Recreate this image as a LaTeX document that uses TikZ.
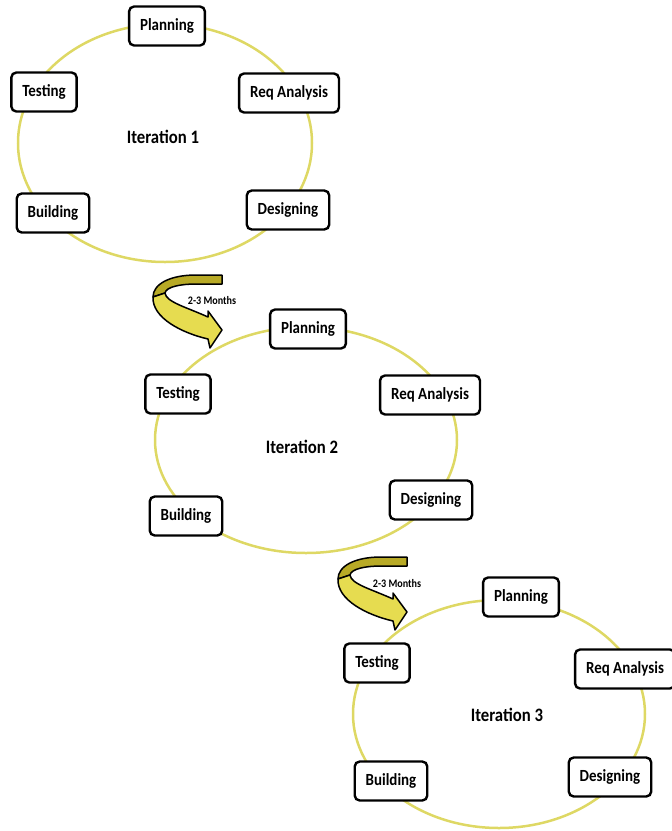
\documentclass[tikz,border=0pt]{standalone}
\usepackage{fontspec}
\setmainfont{Carlito}[FakeStretch=0.88]

\definecolor{ring}{RGB}{222,216,100}
\definecolor{curlback}{RGB}{184,170,38}
\definecolor{curlfront}{RGB}{230,220,80}

\tikzset{phase/.style={draw, line width=2.4pt, rounded corners=5pt, fill=white,
    inner xsep=11pt, minimum height=39pt,
    font=\fontsize{17}{20}\selectfont\bfseries},
  iterlabel/.style={font=\fontsize{19}{22}\selectfont\bfseries},
  months/.style={inner sep=0pt, font=\fontsize{11.5}{13}\selectfont\bfseries},
  loop/.style={ring, line width=2.5pt}}

\begin{document}
\begin{tikzpicture}[x=1pt, y=-1pt]
\useasboundingbox (0,0) rectangle (672,831);

% iteration 1
\draw [loop] (165,143) ellipse [x radius=147, y radius=119];
\node [phase] (plan1) at (167,26) {Planning};
\node [phase] (test1) at (44,92) {Testing};
\node [phase] (req1) at (289,93) {Req Analysis};
\node [phase] (build1) at (53,213) {Building};
\node [phase] (design1) at (288,210) {Designing};
\node [iterlabel] (iter1) at (163,137) {Iteration 1};

% iteration 2
\draw [loop] (306,440) ellipse [x radius=151, y radius=113];
\node [phase] (plan2) at (308,329) {Planning};
\node [phase] (test2) at (178,394) {Testing};
\node [phase] (req2) at (430,395) {Req Analysis};
\node [phase] (build2) at (186,516) {Building};
\node [phase] (design2) at (431,500) {Designing};
\node [iterlabel] (iter2) at (302,447) {Iteration 2};

% iteration 3
\draw [loop] (499,714) ellipse [x radius=146, y radius=114];
\node [phase] (plan3) at (521,597) {Planning};
\node [phase] (test3) at (377,663) {Testing};
\node [phase] (req3) at (625,669) {Req Analysis};
\node [phase] (build3) at (391,781) {Building};
\node [phase] (design3) at (610,777) {Designing};
\node [iterlabel] (iter3) at (507,715) {Iteration 3};

% curl 1 -> 2
\draw [line width=1.5pt, fill=curlback, line join=round]
  (222,275) -- (196,275) .. controls (170,275) and (153,284) .. (153,297)
  -- (165,293) .. controls (166,287) and (180,284) .. (196,284) -- (222,284) -- cycle;
\draw [line width=1.5pt, fill=curlfront, line join=round]
  (153,297) .. controls (152,318) and (182,333) .. (208,339) -- (210,348)
  -- (222,330) -- (208,311) -- (208,317)
  .. controls (186,307) and (166,302) .. (165,293) -- cycle;
\node [months] (m1) at (212,301) {2-3 Months};

% curl 2 -> 3
\begin{scope}[shift={(185,282)}]
\draw [line width=1.5pt, fill=curlback, line join=round]
  (222,275) -- (196,275) .. controls (170,275) and (153,284) .. (153,297)
  -- (165,293) .. controls (166,287) and (180,284) .. (196,284) -- (222,284) -- cycle;
\draw [line width=1.5pt, fill=curlfront, line join=round]
  (153,297) .. controls (152,318) and (182,333) .. (208,339) -- (210,348)
  -- (222,330) -- (208,311) -- (208,317)
  .. controls (186,307) and (166,302) .. (165,293) -- cycle;
\node [months] (m2) at (212,301) {2-3 Months};
\end{scope}

\end{tikzpicture}
\end{document}
